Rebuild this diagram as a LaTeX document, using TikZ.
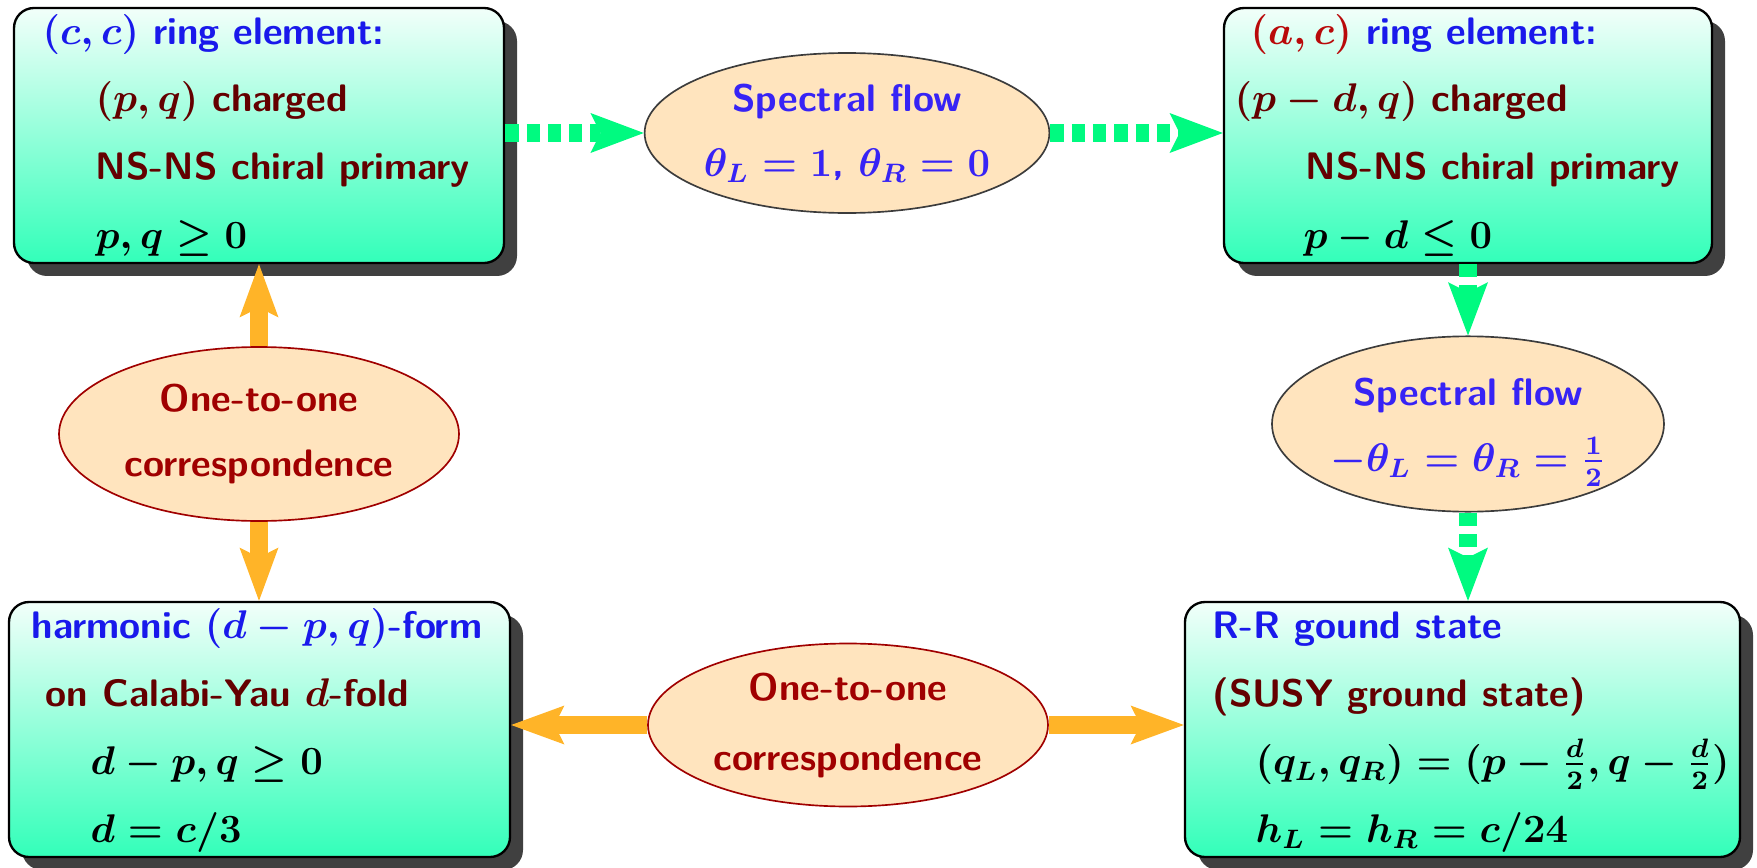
\documentclass[tikz,border=0pt]{standalone}
\usetikzlibrary{arrows.meta,shapes.geometric,shadows}
\definecolor{hblue}{RGB}{25,25,235}
\definecolor{sfblue}{RGB}{55,35,245}
\definecolor{dred}{RGB}{100,0,0}
\definecolor{acred}{RGB}{185,10,10}
\definecolor{oored}{RGB}{160,0,0}
\definecolor{ellfill}{RGB}{255,228,190}
\definecolor{ellgray}{RGB}{60,60,60}
\definecolor{boxtop}{RGB}{242,255,250}
\definecolor{boxbot}{RGB}{50,255,185}
\definecolor{shadowgray}{RGB}{64,64,64}
\definecolor{arrgreen}{RGB}{0,250,128}
\definecolor{arrorange}{RGB}{255,180,40}
\begin{document}
\begin{tikzpicture}[x=0.3pt,y=-0.3pt,
  font=\fontsize{11.5}{14}\selectfont\sffamily\bfseries\boldmath,
  boxst/.style={rectangle, rounded corners=6pt, draw=black, line width=0.7pt,
    top color=boxtop, bottom color=boxbot, inner sep=0pt,
    drop shadow={shadow xshift=3.9pt, shadow yshift=-3.9pt, fill=shadowgray, opacity=1}},
  ellst/.style={ellipse, fill=ellfill, inner sep=0pt, align=center, line width=0.5pt},
  sfell/.style={ellst, draw=ellgray, text=sfblue},
  ooell/.style={ellst, draw=oored, text=oored},
  txt/.style={anchor=base west, inner sep=0pt},
  greenarr/.style={draw=arrgreen, line width=5.4pt, dash pattern=on 4pt off 2.4pt, -{Stealth[length=16pt,width=12pt,inset=3pt,line width=0pt]}},
  orangearr/.style={draw=arrorange, line width=5.4pt, -{Stealth[length=16pt,width=11.7pt,inset=3pt,line width=0pt]}}
]
\useasboundingbox (0,0) rectangle (1757,868);
% boxes
\node[boxst, minimum width=147pt, minimum height=76.5pt] (tl) at (259,135.5) {};
\node[boxst, minimum width=146.4pt, minimum height=76.5pt] (tr) at (1468,135.5) {};
\node[boxst, minimum width=150.3pt, minimum height=76.5pt] (bl) at (259.5,729.5) {};
\node[boxst, minimum width=166.5pt, minimum height=76.5pt] (br) at (1462.5,729.5) {};
% ellipses
\node[sfell, minimum width=120.9pt, minimum height=48pt] (top) at (847,133)
  {Spectral flow\\[5.5pt]$\theta_L=1$, $\theta_R=0$};
\node[sfell, minimum width=117.6pt, minimum height=51.6pt] (rgt) at (1468,424)
  {\rule{0pt}{13pt}Spectral flow\\[5.7pt]$-\theta_L=\theta_R=\frac{1}{2}$};
\node[ooell, minimum width=120pt, minimum height=52.2pt] (lft) at (259,434)
  {One-to-one\\[5.5pt]correspondence};
\node[ooell, minimum width=120pt, minimum height=48.9pt] (bot) at (848,725)
  {One-to-one\\[7pt]correspondence};
% box texts
\node[txt] (tl1) at (42,44) {\color{hblue}$(c,c)$ ring element:};
\node[txt] (tl2) at (95,112) {\color{dred}$(p,q)$ charged};
\node[txt] (tl3) at (95,180) {\color{dred}NS-NS chiral primary};
\node[txt] (tl4) at (95,248) {$p,q\geq 0$};
\node[txt] (tr1) at (1250,44) {{\color{acred}$(a,c)$} {\color{hblue}ring element:}};
\node[txt] (tr2) at (1234,112) {\color{dred}$(p-d,q)$ charged};
\node[txt] (tr3) at (1305,180) {\color{dred}NS-NS chiral primary};
\node[txt] (tr4) at (1303,248) {$p-d\leq 0$};
\node[txt] (bl1) at (31,638) {\color{hblue}harmonic $(d-p,q)$-form};
\node[txt] (bl2) at (45,706) {\color{dred}on Calabi-Yau $d$-fold};
\node[txt] (bl3) at (90,774) {$d-p,q\geq 0$};
\node[txt] (bl4) at (90,842) {$d=c/3$};
\node[txt] (br1) at (1212,638) {\color{hblue}R-R gound state};
\node[txt] (br2) at (1212,706) {\color{dred}(SUSY ground state)};
\node[txt] (br3) at (1255,774) {$(q_L,q_R)=(p-\frac{d}{2},q-\frac{d}{2})$};
\node[txt] (br4) at (1255,842) {$h_L=h_R=c/24$};
% connectors
\draw[greenarr] (tl.east |- top.west) -- (top.west);
\draw[greenarr] (top.east) -- (top.east -| tr.west);
\draw[greenarr] (tr.south) -- (rgt.north);
\draw[greenarr] (rgt.south) -- (rgt.south |- br.north);
\draw[orangearr] (lft.north) -- (lft.north |- tl.south);
\draw[orangearr] (lft.south) -- (lft.south |- bl.north);
\draw[orangearr] (bot.west) -- (bot.west -| bl.east);
\draw[orangearr] (bot.east) -- (bot.east -| br.west);
\end{tikzpicture}
\end{document}
